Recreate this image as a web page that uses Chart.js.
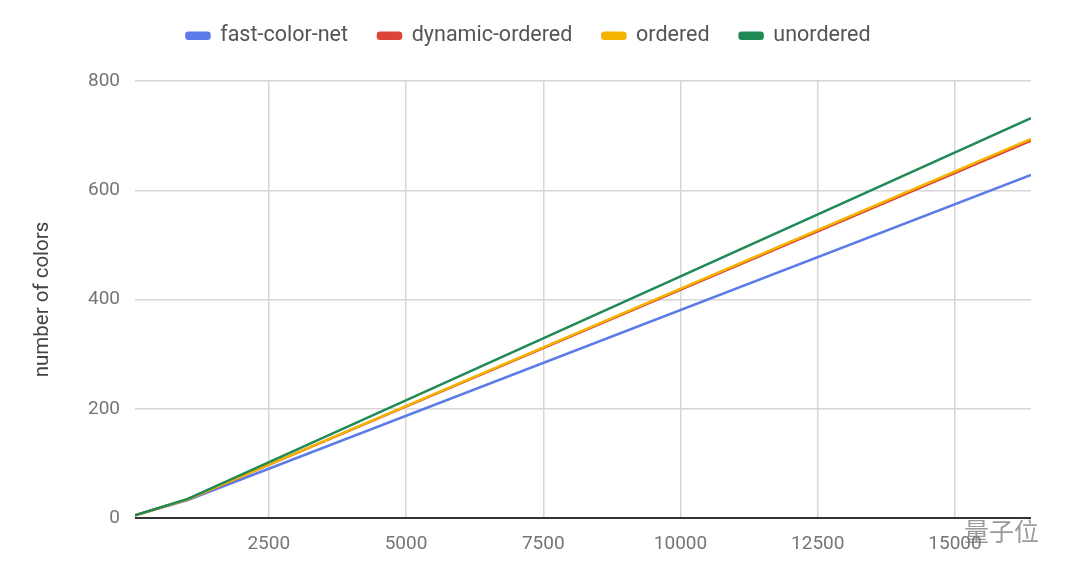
<!DOCTYPE html>
<html>
<head>
<meta charset="utf-8">
<script src="https://cdn.jsdelivr.net/npm/chart.js@4"></script>
<style>
    html, body { margin: 0; padding: 0; background: #fff; }
    #wrap { position: relative; width: 1080px; height: 578px; }
    #mark {
        position: absolute; left: 964px; top: 512px;
        font-family: "Noto Sans CJK SC", sans-serif; font-size: 25px;
        color: rgba(120, 120, 120, 0.75);
    }
</style>
</head>
<body>
<div id="wrap">
    <canvas id="colorChart" width="1080" height="578"></canvas>
    <div id="mark">量子位</div>
</div>
<script>
// Chart data
const sizes = [64, 1024, 16384];
const fastColorNet = [5, 33, 628];
const dynamicOrdered = [5, 34, 691];
const ordered = [5, 34, 694];
const unordered = [5, 35, 732];
const xTicks = [2500, 5000, 7500, 10000, 12500, 15000];
const yTicks = [0, 200, 400, 600, 800];

function toPoints(values) {
    return values.map((v, i) => ({ x: sizes[i], y: v }));
}

function makeSet(label, values, color, order) {
    return {
        label: label,
        data: toPoints(values),
        borderColor: color,
        backgroundColor: color,
        borderWidth: 2.5,
        pointRadius: 0,
        tension: 0,
        order: order
    };
}

// fixed legend height so the plot starts where the reference does
const legendHeight = {
    id: 'legendHeight',
    beforeInit(chart) {
        const fit = chart.legend.fit;
        chart.legend.fit = function () {
            fit.call(this);
            this.height = 86;
        };
    }
};

document.addEventListener('DOMContentLoaded', () => {
    const ctx = document.getElementById('colorChart');

    new Chart(ctx.getContext('2d'), {
        type: 'line',
        data: {
            datasets: [
                makeSet('fast-color-net', fastColorNet, '#5a7be8', 3),
                makeSet('dynamic-ordered', dynamicOrdered, '#db4437', 2),
                makeSet('ordered', ordered, '#f4b400', 1),
                makeSet('unordered', unordered, '#1f8a55', 0)
            ]
        },
        options: {
            responsive: false,
            animation: false,
            layout: {
                padding: { top: -5, right: 49, bottom: 0, left: 26 }
            },
            plugins: {
                legend: {
                    display: true,
                    position: 'top',
                    labels: {
                        boxWidth: 23,
                        boxHeight: 6,
                        useBorderRadius: true,
                        borderRadius: 2,
                        padding: 30,
                        color: '#555',
                        font: { family: 'Roboto', size: 21.5 },
                        sort: (a, b) => a.datasetIndex - b.datasetIndex
                    }
                },
                tooltip: { enabled: false }
            },
            scales: {
                x: {
                    type: 'linear',
                    min: sizes[0],
                    max: sizes[sizes.length - 1],
                    afterBuildTicks: function (scale) {
                        scale.ticks = xTicks.map(v => ({ value: v }));
                    },
                    afterFit: function (scale) {
                        scale.height = 60;
                    },
                    border: { display: false },
                    grid: {
                        color: '#d6d6d6',
                        lineWidth: 1.5,
                        drawTicks: false
                    },
                    ticks: {
                        color: '#757575',
                        padding: 15,
                        maxRotation: 0,
                        font: { family: 'Roboto', size: 19 },
                        callback: function (value) {
                            return String(value);
                        }
                    }
                },
                y: {
                    min: 0,
                    max: 800,
                    afterBuildTicks: function (scale) {
                        scale.ticks = yTicks.map(v => ({ value: v }));
                    },
                    afterFit: function (scale) {
                        scale.width = 109;
                    },
                    border: { display: false },
                    grid: {
                        color: function (c) {
                            return c.tick && c.tick.value === 0 ? '#333' : '#d6d6d6';
                        },
                        lineWidth: function (c) {
                            return c.tick && c.tick.value === 0 ? 2 : 1.5;
                        },
                        drawTicks: false
                    },
                    ticks: {
                        color: '#757575',
                        padding: 15,
                        font: { family: 'Roboto', size: 19 }
                    },
                    title: {
                        display: true,
                        text: 'number of colors',
                        color: '#444',
                        padding: { top: 5, bottom: 0 },
                        font: { family: 'Roboto', size: 20.5 }
                    }
                }
            }
        },
        plugins: [legendHeight]
    });
});
</script>
</body>
</html>
